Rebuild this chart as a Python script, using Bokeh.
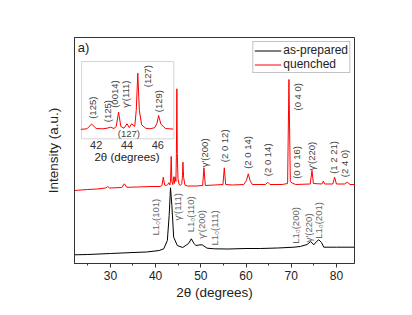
import numpy as np
from math import pi
from bokeh.plotting import figure
from bokeh.models import (ColumnDataSource, Range1d, SingleIntervalTicker, FixedTicker,
                          Label, Legend, LegendItem)
from bokeh.core.properties import value
from bokeh.embed import file_html
from bokeh.resources import INLINE

FONT = "Liberation Sans"

# ---------------- data (arbitrary intensity units) -------------
asprep_x = [22.1, 25, 30, 35, 38, 40.8, 41.8, 42.6, 43.0, 43.3, 43.6, 44.0, 44.8, 46.0,
            47.3, 47.9, 48.5, 48.9, 49.6, 50.3, 51.4, 53, 56, 60, 63.2, 67, 70.6, 72,
            73.5, 74.3, 75.0, 75.6, 76.1, 76.7, 77.2, 80, 84]
asprep_y = [8.7, 9, 10, 11, 11.5, 13, 14.7, 23, 48, 75.7, 58, 26.3, 18, 16,
            20, 24.7, 20, 18, 18.5, 18.7, 15.3, 14.7, 14.5, 15, 15, 15.5, 16.3, 17,
            19, 22, 18.7, 22, 23.7, 21, 16.3, 16.3, 16.3]

quench_x = [22.1, 25, 27, 29, 29.4, 29.8, 32.5, 33.1, 33.6, 36, 39, 41.0, 41.4, 41.7, 42.0,
            42.4, 42.7, 42.93, 43.15, 43.3, 43.45, 43.6, 43.8, 44.0, 44.15, 44.3, 44.5, 44.6,
            44.7, 44.8, 44.95, 45.2, 45.5, 45.8, 45.95, 46.05, 46.2, 46.5, 47.0, 49, 50.4,
            50.7, 51.0, 53, 54.9, 55.2, 55.5, 57, 59.5, 60.1, 60.5, 60.9, 61.4, 64.3, 64.8,
            65.3, 68, 69.2, 69.5, 69.8, 70.2, 71, 74.2, 74.6, 74.9, 76.8, 77.1, 77.4, 79.2,
            79.6, 80.0, 81.8, 82.4, 83, 84]
quench_y = [73, 74, 74.5, 75.5, 77, 75.5, 76, 79.7, 76.2, 76.5, 77, 77, 78, 86.3, 78.5,
            78, 79, 80.8, 78.5, 82, 107, 82, 79, 86.7, 80, 86.7, 82, 110,
            174.7, 110, 85, 79, 78, 80, 88, 101.3, 86, 78.5, 77.5, 77.5, 78,
            95.7, 78, 78.5, 79, 95.7, 79, 78.5, 79, 83, 89.7, 83, 79, 79, 81.3,
            79, 79, 80, 184, 82, 80.5, 79, 79.5, 93, 80, 79.5, 82.3, 79.5, 79.5,
            86.3, 79.5, 79.5, 81.3, 79, 79]

inset_lo, inset_hi = 41.0, 47.0

main_ticks = [30, 40, 50, 60, 70, 80]
inset_ticks = [42, 44, 46]

red_labels = ["\u03b3'(200)", "(2 0 12)", "(2 0 14)", "(2 0 14)", "(0 4 0)", "(0 0 16)",
              "\u03b3'(220)", "(1 2 21)", "(2 4 0)"]
red_lab_x = [50.88, 55.24, 60.27, 64.69, 71.33, 71.1, 74.49, 79.29, 81.86]
red_lab_y = [96.3, 101.3, 94.7, 87.3, 153, 84.7, 93, 89.7, 86.3]

blk_labels = ["L1\u2080(101)", "\u03b3'(111)", "L1\u2080(110)", "\u03b3'(200)", "L1\u2080(111)",
              "L1\u2080(200)", "\u03b3'(220)", "L1\u2080(201)"]
blk_lab_x = [39.98, 44.78, 47.72, 50.09, 53.03, 70.95, 73.89, 76.1]
blk_lab_y = [28, 43, 31.3, 24.7, 18, 19.7, 21.3, 24.7]

ins_labels = ["(125)", "(125)", "(0014)", "\u03b3'(111)", "(127)", "(129)"]
ins_lab_x = [41.74, 42.71, 43.21, 43.90, 45.31, 46.06]
ins_lab_y = [95.4, 89.5, 114.5, 114.5, 150.3, 106.9]

# ---------------- figure ----------------
p = figure(width=404, height=307, output_backend="svg", toolbar_location=None,
           x_range=Range1d(22.06, 84.0), y_range=Range1d(0, 226),
           min_border_left=74, min_border_right=50, min_border_top=37, min_border_bottom=44)
p.extra_x_ranges = {"ix": Range1d(40.59, 58.77)}
p.extra_y_ranges = {"iy": Range1d(-156.3, 236.8)}

p.xgrid.visible = False
p.ygrid.visible = False
p.outline_line_color = "#333333"
p.outline_line_width = 1
p.background_fill_color = "white"
p.border_fill_color = "white"

xa = p.xaxis[0]
xa.ticker = SingleIntervalTicker(interval=10, num_minor_ticks=2)
xa.major_tick_out = 4
xa.major_tick_in = 0
xa.minor_tick_out = 2
xa.minor_tick_in = 0
xa.axis_line_color = "#333333"
xa.major_tick_line_color = "#333333"
xa.minor_tick_line_color = "#333333"
xa.major_label_text_font = FONT
xa.major_label_text_font_size = "12px"
xa.major_label_text_color = "#222222"
xa.major_label_standoff = 3
xa.axis_label = "2\u03b8 (degrees)"
xa.axis_label_text_font = FONT
xa.axis_label_text_font_size = "13.5px"
xa.axis_label_text_font_style = "normal"
xa.axis_label_text_color = "#222222"
xa.axis_label_standoff = 2

ya = p.yaxis[0]
ya.ticker = FixedTicker(ticks=[])
ya.axis_line_color = "#333333"
ya.axis_label = "Intensity (a.u.)"
ya.axis_label_text_font = FONT
ya.axis_label_text_font_size = "13.5px"
ya.axis_label_text_font_style = "normal"
ya.axis_label_text_color = "#222222"
ya.axis_label_standoff = 14

# main curves
r_black = p.line(asprep_x, asprep_y, line_color="black", line_width=1)
r_red = p.line(quench_x, quench_y, line_color="#ff0000", line_width=1)

# inset box and curve
p.quad(left=[41.05], right=[47.04], bottom=[60.6], top=[195.0], fill_color="white",
       line_color="#d4d4d4", line_width=1, x_range_name="ix", y_range_name="iy")
qx = np.array(quench_x)
qy = np.array(quench_y)
m = (qx >= inset_lo) & (qx <= inset_hi)
p.line(qx[m], qy[m], line_color="#ff0000", line_width=1, x_range_name="ix", y_range_name="iy")

# inset tick labels and axis label
p.text(x=inset_ticks, y=[50.2] * len(inset_ticks), text=[str(t) for t in inset_ticks],
       text_font=value(FONT), text_font_size="11px", text_color="#333333",
       text_align="center", text_baseline="middle", x_range_name="ix", y_range_name="iy")
p.text(x=[44.0], y=[28.6], text=["2\u03b8 (degrees)"],
       text_font=value(FONT), text_font_size="11.5px", text_color="#222222",
       text_align="center", text_baseline="middle", x_range_name="ix", y_range_name="iy")

# inset peak labels
p.text(x=ins_lab_x, y=ins_lab_y, text=ins_labels, angle=pi / 2,
       text_font=value(FONT), text_font_size="9.5px", text_color="#444444",
       text_align="left", text_baseline="middle", x_range_name="ix", y_range_name="iy")
p.text(x=[44.12], y=[70.3], text=["(127)"],
       text_font=value(FONT), text_font_size="9.5px", text_color="#444444",
       text_align="center", text_baseline="middle", x_range_name="ix", y_range_name="iy")

# main peak labels
p.text(x=red_lab_x, y=red_lab_y, text=red_labels, angle=pi / 2,
       text_font=value(FONT), text_font_size="9.5px", text_color="#444444",
       text_align="left", text_baseline="middle")
p.text(x=blk_lab_x, y=blk_lab_y, text=blk_labels, angle=pi / 2,
       text_font=value(FONT), text_font_size="9.5px", text_color="#666666",
       text_align="left", text_baseline="middle")

p.add_layout(Label(x=22.79, y=216, text="a)", text_font=FONT, text_font_size="13px",
                   text_color="#222222", text_align="left", text_baseline="middle"))

legend = Legend(items=[LegendItem(label="as-prepared", renderers=[r_black]),
                       LegendItem(label="quenched", renderers=[r_red])],
                location="top_right")
legend.label_text_font = FONT
legend.label_text_font_size = "12px"
legend.label_text_color = "#222222"
legend.border_line_color = "#888888"
legend.border_line_width = 1
legend.background_fill_alpha = 1
legend.margin = 4
legend.padding = 1
legend.spacing = 0
legend.glyph_width = 27
legend.glyph_height = 13
legend.label_height = 13
legend.label_standoff = 2
p.add_layout(legend)

open("out.html", "w").write(file_html(p, INLINE))
